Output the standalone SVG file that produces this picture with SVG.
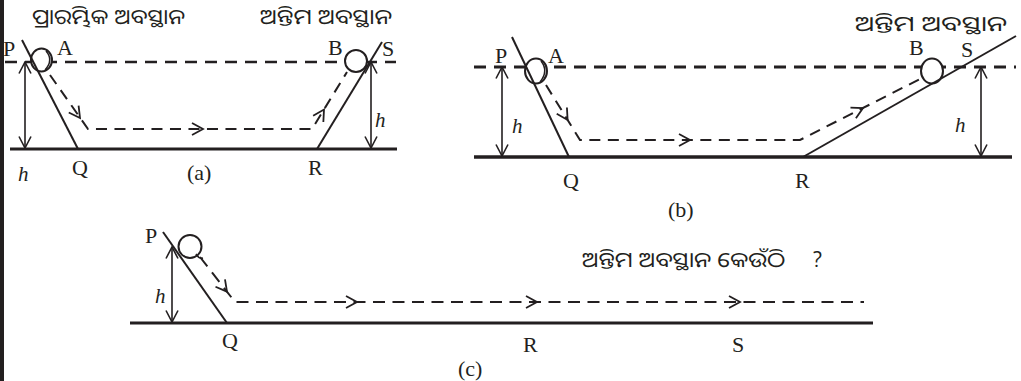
<svg xmlns="http://www.w3.org/2000/svg" xmlns:xlink="http://www.w3.org/1999/xlink" width="1021" height="381" viewBox="0 0 1021 381">
<style>
.lbl{font-family:"Liberation Serif","Times New Roman",serif;font-size:22px;fill:#231f20}
.hl{font-family:"Liberation Serif","Times New Roman",serif;font-size:21px;font-style:italic;fill:#231f20}
.od{font-family:"Noto Sans Oriya","Noto Sans","Liberation Sans",sans-serif;font-size:21px;fill:#231f20}
.ground{stroke:#231f20;stroke-width:3;fill:none}
.incl{stroke:#231f20;stroke-width:2;fill:none}
.level{stroke:#231f20;stroke-width:2.5;stroke-dasharray:12 8;fill:none}
.path{stroke:#231f20;stroke-width:2;stroke-dasharray:11 7.5;fill:none}
.harrow{stroke:#231f20;stroke-width:1.6;fill:none;marker-start:url(#ah);marker-end:url(#ah)}
.ball{stroke:#231f20;stroke-width:2;fill:#fff}
.cres{stroke:#231f20;stroke-width:1.5;fill:none}
.chev{stroke:#231f20;stroke-width:1.8;fill:none}
</style>
<defs>
<marker id="ah" markerUnits="userSpaceOnUse" markerWidth="14" markerHeight="14" viewBox="0 0 14 14" refX="12.5" refY="7" orient="auto-start-reverse">
<path d="M1,1 L12.5,7 L1,13" fill="none" stroke="#231f20" stroke-width="1.6"/>
</marker>
<path id="chev" d="M-11,-6 L0,0 L-11,6" class="chev"/>
</defs>
<rect x="0" y="0" width="4" height="381" fill="#231f20"/>

<!-- (a) -->
<g id="diagram-a">
<g id="a-connectors">
<line class="level" x1="5" y1="62" x2="396" y2="62"/>
<path class="path" d="M50,75 L88,129 L312,129 L347,72"/>
<use xlink:href="#chev" transform="translate(80,118) rotate(54.9)"/>
<use xlink:href="#chev" transform="translate(203,129)"/>
<use xlink:href="#chev" transform="translate(324,109.5) rotate(-58.4)"/>
<line class="harrow" x1="25" y1="62" x2="25" y2="148"/>
<line class="harrow" x1="371" y1="62" x2="371" y2="148"/>
</g>
<g id="a-ballA"><ellipse class="ball" cx="41.5" cy="60" rx="10.5" ry="11.5"/><path class="cres" d="M46,51 Q54,60 45,70"/></g>
<g id="a-ballB"><circle class="ball" cx="356" cy="61" r="11"/></g>
<g id="a-slopes">
<line class="incl" x1="22" y1="40" x2="78" y2="149"/>
<line class="incl" x1="317" y1="149" x2="382" y2="42"/>
<line class="ground" x1="10" y1="149" x2="397" y2="149"/>
</g>
<text class="od" x="32" y="24" textLength="153" lengthAdjust="spacingAndGlyphs">ପ୍ରାରମ୍ଭିକ ଅବସ୍ଥାନ</text>
<text class="od" x="260" y="24" textLength="132" lengthAdjust="spacingAndGlyphs">ଅନ୍ତିମ ଅବସ୍ଥାନ</text>
<text class="lbl" x="3" y="56">P</text>
<text class="lbl" x="57" y="55">A</text>
<text class="lbl" x="328" y="55">B</text>
<text class="lbl" x="382" y="56">S</text>
<text class="lbl" x="72" y="175">Q</text>
<text class="lbl" x="308" y="175">R</text>
<text class="lbl" x="187" y="180">(a)</text>
<text class="hl" x="18" y="181">h</text>
<text class="hl" x="375" y="127">h</text>
</g>

<!-- (b) -->
<g id="diagram-b">
<g id="b-connectors">
<line class="level" x1="474" y1="67" x2="1016" y2="67" style="stroke-width:3"/>
<path class="path" d="M546,85 L580,140 L800,140 L922,78"/>
<use xlink:href="#chev" transform="translate(567.6,120) rotate(58.3)"/>
<use xlink:href="#chev" transform="translate(690,140)"/>
<use xlink:href="#chev" transform="translate(863,108) rotate(-26.9)"/>
<line class="harrow" x1="502" y1="67" x2="502" y2="156"/>
<line class="harrow" x1="981" y1="67" x2="981" y2="156"/>
</g>
<g id="b-ballA"><ellipse class="ball" cx="536" cy="71" rx="11" ry="12.5"/><path class="cres" d="M541,61 Q549,71 540,82"/></g>
<g id="b-ballB"><ellipse class="ball" cx="932" cy="71" rx="11" ry="12.5"/></g>
<g id="b-slopes">
<line class="incl" x1="512" y1="37" x2="569" y2="157"/>
<line class="incl" x1="803" y1="157" x2="1016" y2="36"/>
<line class="ground" x1="474" y1="157" x2="1012" y2="157" style="stroke-width:3.5"/>
</g>
<text class="od" x="855" y="31" textLength="152" lengthAdjust="spacingAndGlyphs">ଅନ୍ତିମ ଅବସ୍ଥାନ</text>
<text class="lbl" x="495" y="63">P</text>
<text class="lbl" x="548" y="63">A</text>
<text class="lbl" x="909" y="55">B</text>
<text class="lbl" x="961" y="57">S</text>
<text class="lbl" x="563" y="188">Q</text>
<text class="lbl" x="795" y="188">R</text>
<text class="lbl" x="668" y="217">(b)</text>
<text class="hl" x="512" y="133">h</text>
<text class="hl" x="955" y="132">h</text>
</g>

<!-- (c) -->
<g id="diagram-c">
<g id="c-connectors">
<path class="path" d="M200,257 L235,302 L864,302" style="stroke-dasharray:12 7.5"/>
<use xlink:href="#chev" transform="translate(227,291.7) rotate(52.1)"/>
<use xlink:href="#chev" transform="translate(357,302)"/>
<use xlink:href="#chev" transform="translate(537,302)"/>
<use xlink:href="#chev" transform="translate(740,302)"/>
<line class="harrow" x1="172" y1="247" x2="172" y2="322"/>
</g>
<g id="c-ball"><circle class="ball" cx="190" cy="246.5" r="11.5"/><path class="cres" d="M196,254 Q199,259 203,258"/></g>
<g id="c-slopes">
<line class="incl" x1="163" y1="232" x2="227" y2="323"/>
<line class="ground" x1="130" y1="323" x2="873" y2="323"/>
</g>
<text class="od" x="582" y="267" textLength="203" lengthAdjust="spacingAndGlyphs">ଅନ୍ତିମ ଅବସ୍ଥାନ କେଉଁଠି</text>
<text class="od" x="812" y="267">?</text>
<text class="lbl" x="145" y="243">P</text>
<text class="lbl" x="222" y="348">Q</text>
<text class="lbl" x="523" y="352">R</text>
<text class="lbl" x="732" y="352">S</text>
<text class="lbl" x="458" y="376">(c)</text>
<text class="hl" x="155" y="303">h</text>
</g>
</svg>
